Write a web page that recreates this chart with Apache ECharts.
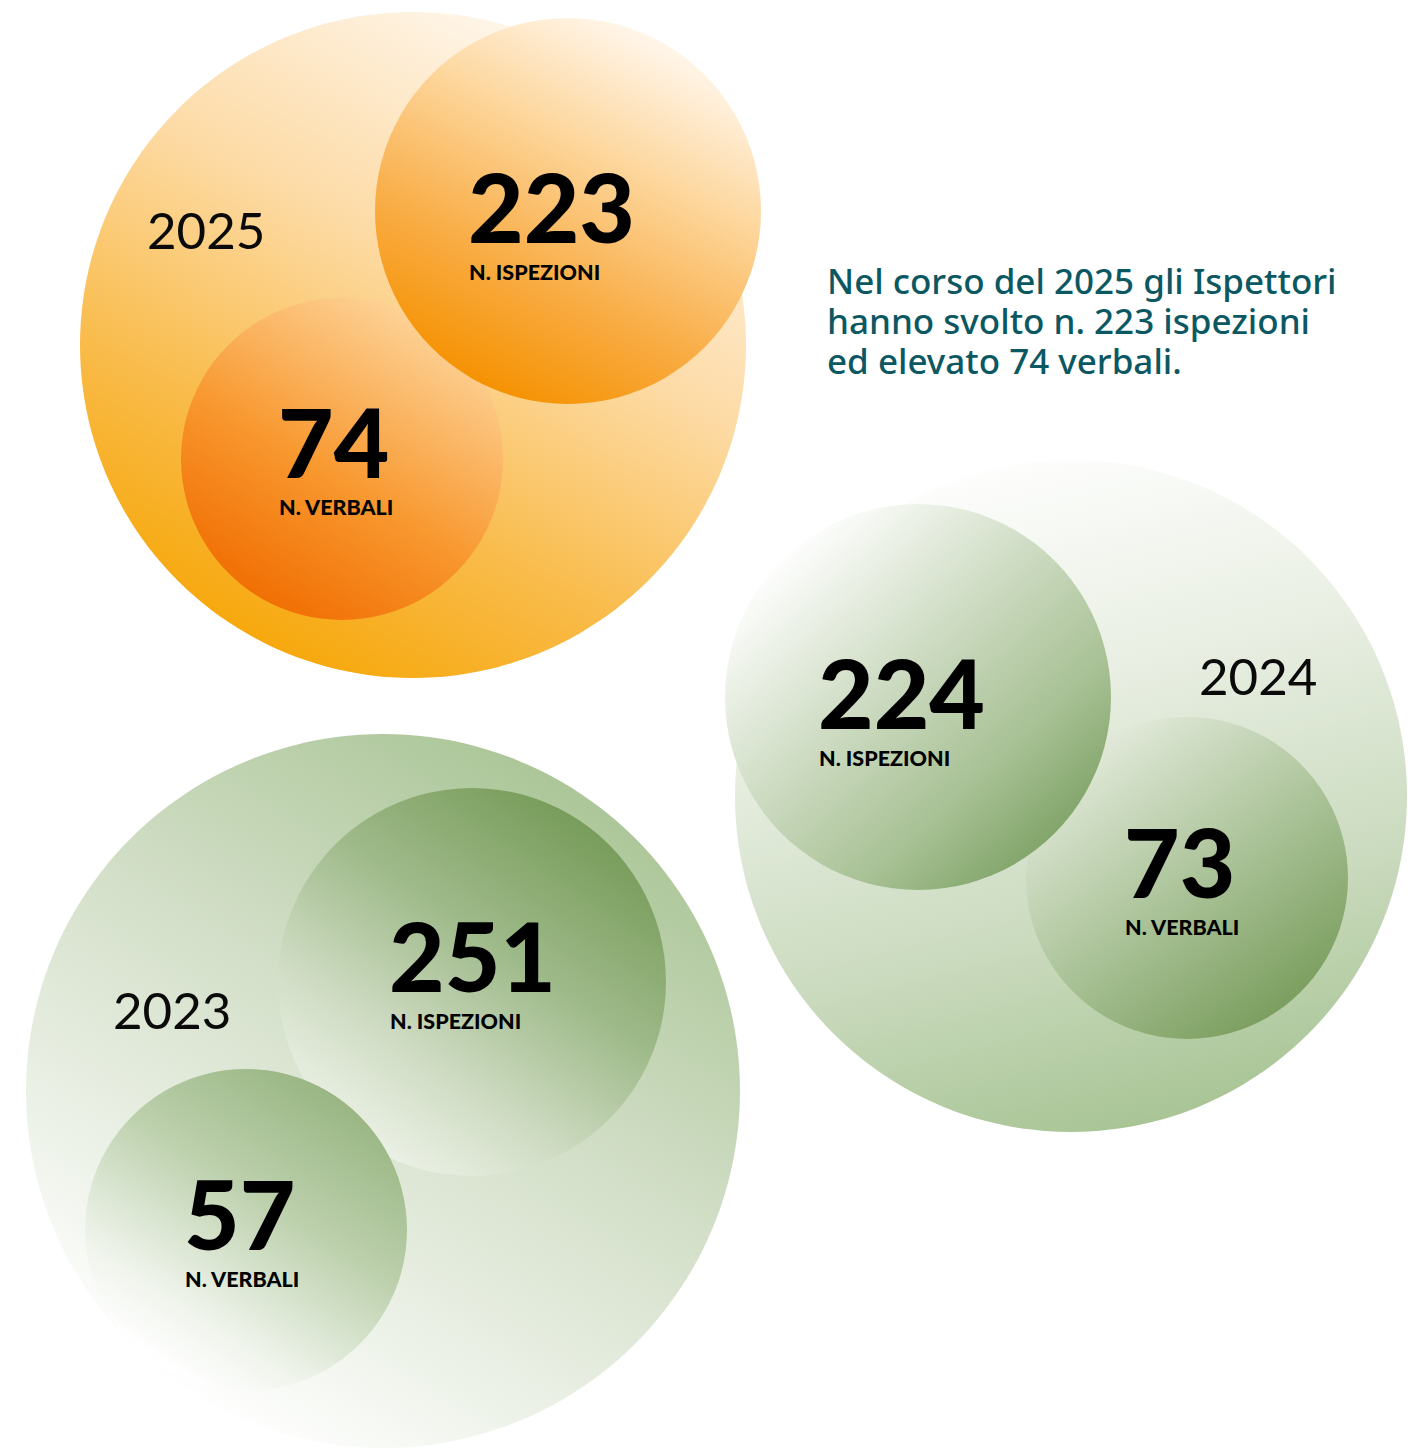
<!DOCTYPE html>
<html>
<head>
<meta charset="utf-8">
<script src="https://cdn.jsdelivr.net/npm/echarts@6/dist/echarts.min.js"></script>
<style>
html,body{margin:0;padding:0;background:#ffffff;}
#chart{width:1420px;height:1448px;}
</style>
</head>
<body>
<div id="chart"></div>
<script>
// ---- data ----
const years = ['2025', '2024', '2023'];
const ispezioni = [223, 224, 251];
const verbali = [74, 73, 57];
const labelIspezioni = 'N. ISPEZIONI';
const labelVerbali = 'N. VERBALI';
const noteLines = ['Nel corso del 2025 gli Ispettori', 'hanno svolto n. 223 ispezioni', 'ed elevato 74 verbali.'];

// ---- layout (chart-space coordinates, pixels of a 1420x1448 canvas) ----
// number text position = centre-left of the figure; label sits 67px below it
const layout = [
  { big: [413, 345, 333], isp: [568, 211, 193], ver: [342, 459, 161],
    yearPos: [147, 229], ispText: [469, 205], verText: [279, 440], verOnTop: false },
  { big: [1071, 796, 336], isp: [918, 697, 193], ver: [1187, 878, 161],
    yearPos: [1199, 675], ispText: [819, 691], verText: [1125, 860], verOnTop: false },
  { big: [383, 1091, 357], isp: [472, 982, 194], ver: [246, 1230, 161],
    yearPos: [113, 1009], ispText: [390, 954], verText: [185, 1212], verOnTop: true }
];

function lg(x, y, x2, y2, stops) {
  return new echarts.graphic.LinearGradient(x, y, x2, y2,
    stops.map(s => ({ offset: s[0], color: s[1] })));
}

const fills = [
  {
    big: lg(0.25, 1, 0.78, 0, [[0, '#f6a400'], [0.3, '#f9bc4c'], [0.6, '#fddba6'], [0.85, '#feefd9'], [1, '#fffdf9']]),
    isp: lg(0.35, 1, 0.85, 0, [[0, '#f59100'], [0.3, '#f9ae48'], [0.62, '#fdd79e'], [0.85, '#fff0dc'], [1, '#ffffff']]),
    ver: lg(0.2, 0.95, 0.75, 0.05, [[0, '#f06c00'], [0.45, '#f8982f'], [1, '#fdd49a']])
  },
  {
    big: lg(0.3, 0, 0.55, 1, [[0, '#ffffff'], [0.35, '#e9efe3'], [0.7, '#cbdbbf'], [1, '#a9c596']]),
    isp: lg(0.15, 0.12, 0.85, 0.88, [[0, '#ffffff'], [0.4, '#d0ddc5'], [0.75, '#a8c195'], [1, '#80a468']]),
    ver: lg(0.2, 0.1, 0.8, 0.92, [[0, '#e1e9d9'], [0.45, '#b2c8a1'], [1, '#7a9e5e']])
  },
  {
    big: lg(0.8, 0.05, 0.25, 0.95, [[0, '#a8c494'], [0.45, '#d3dfc8'], [0.8, '#eef3ea'], [1, '#ffffff']]),
    isp: lg(0.82, 0.1, 0.25, 0.92, [[0, '#779c5a'], [0.4, '#9fba8a'], [0.75, '#cfdcc3'], [1, '#eaf0e4']]),
    ver: lg(0.8, 0.08, 0.25, 0.92, [[0, '#98b582'], [0.4, '#bcd0ac'], [0.8, '#eef3ea'], [1, '#ffffff']])
  }
];

const richStyles = {
  n: { fontFamily: 'Lato', fontWeight: 900, fontSize: 96, lineHeight: 110, color: '#050505' },
  l: { fontFamily: 'Lato', fontWeight: 900, fontSize: 21.5, lineHeight: 24, color: '#0a0a0a', padding: [0, 0, 0, 1] }
};
const yearFont = { fontFamily: 'Lato', fontWeight: 400, fontSize: 51, lineHeight: 40, fill: '#0a0a0a' };

function renderItem(params, api) {
  const i = params.dataIndex;
  const L = layout[i];
  const F = fills[i];
  const circ = (c, fill) => {
    const p = api.coord([c[0], c[1]]);
    const r = api.size([c[2], 0])[0];
    return { type: 'circle', shape: { cx: p[0], cy: p[1], r: r }, style: { fill: fill } };
  };
  const figure = (pos, value, label) => {
    const p = api.coord([pos[0] - 1, pos[1] - 55]);
    return { type: 'text', x: p[0], y: p[1],
      style: { text: '{n|' + value + '}\n{l|' + label + '}', rich: richStyles,
               textAlign: 'left', textVerticalAlign: 'top' } };
  };
  const yp = api.coord(L.yearPos);
  const bigC = circ(L.big, F.big);
  const ispC = circ(L.isp, F.isp);
  const verC = circ(L.ver, F.ver);
  const circles = L.verOnTop ? [bigC, ispC, verC] : [bigC, verC, ispC];
  return {
    type: 'group',
    children: circles.concat([
      { type: 'text', x: yp[0], y: yp[1],
        style: Object.assign({ text: years[i], textAlign: 'left', textVerticalAlign: 'middle' }, yearFont) },
      figure(L.ispText, api.value(1), labelIspezioni),
      figure(L.verText, api.value(2), labelVerbali)
    ])
  };
}

const seriesData = years.map((y, i) => [i, ispezioni[i], verbali[i]]);

const chart = echarts.init(document.getElementById('chart'), null, { renderer: 'svg' });
chart.setOption({
  animation: false,
  backgroundColor: '#ffffff',
  grid: { left: 0, right: 0, top: 0, bottom: 0 },
  xAxis: { type: 'value', min: 0, max: 1420, show: false },
  yAxis: { type: 'value', min: 0, max: 1448, inverse: true, show: false },
  series: [{
    type: 'custom',
    renderItem: renderItem,
    data: seriesData,
    silent: true
  }],
  graphic: [{
    type: 'text',
    left: 827,
    top: 260,
    style: { text: noteLines.join('\n'), fontFamily: 'Noto Sans', fontWeight: 500, fontSize: 35, lineHeight: 40, fill: '#0c5862' }
  }]
});
</script>
</body>
</html>
